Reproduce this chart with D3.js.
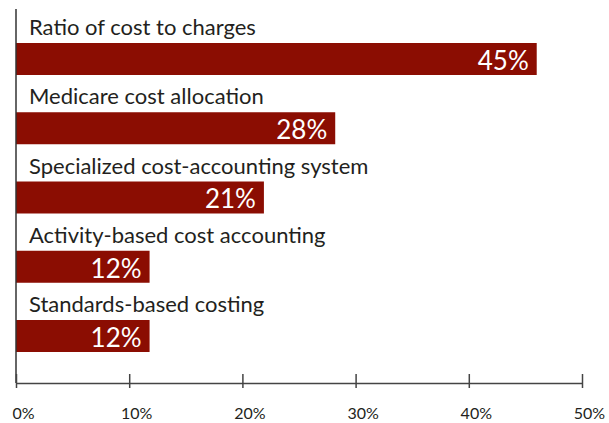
<!DOCTYPE html>
<html>
<head>
<meta charset="utf-8">
<script src="https://cdn.jsdelivr.net/npm/d3@7"></script>
<style>
  body { margin: 0; background: #fff; }
  svg { display: block; font-family: Lato, "Open Sans", sans-serif; }
</style>
</head>
<body>
<svg id="chart" width="609" height="423"></svg>
<script>
const categories = [
  "Ratio of cost to charges",
  "Medicare cost allocation",
  "Specialized cost-accounting system",
  "Activity-based cost accounting",
  "Standards-based costing"
];
// bar lengths as drawn (percent)
const values = [46, 28.2, 21.9, 11.8, 11.8];
// printed labels on the bars
const valueLabels = ["45%", "28%", "21%", "12%", "12%"];
const xTicks = [0, 10, 20, 30, 40, 50];

const svg = d3.select("#chart");
const x0 = 16, x1 = 582, axisY = 383;

const x = d3.scaleLinear().domain([0, 50]).range([x0, x1]);
const y = d3.scaleBand()
  .domain(categories)
  .range([43, 352])
  .paddingInner(0.538)
  .paddingOuter(0)
  .align(0);

const rows = categories.map((c, i) => ({ cat: c, value: values[i], label: valueLabels[i] }));

// bars
svg.selectAll("rect.bar")
  .data(rows)
  .join("rect")
  .attr("class", "bar")
  .attr("x", x(0))
  .attr("y", d => y(d.cat))
  .attr("width", d => x(d.value) - x(0))
  .attr("height", y.bandwidth())
  .attr("fill", "#8b0d02");

// category labels above bars
svg.selectAll("text.cat")
  .data(rows)
  .join("text")
  .attr("class", "cat")
  .attr("x", x(0) + 13)
  .attr("y", d => y(d.cat) - 8)
  .attr("fill", "#231f20")
  .style("font-size", "22px")
  .text(d => d.cat);

// value labels inside bars
svg.selectAll("text.val")
  .data(rows)
  .join("text")
  .attr("class", "val")
  .attr("x", d => x(d.value) - 8)
  .attr("y", d => y(d.cat) + y.bandwidth() - 5)
  .attr("text-anchor", "end")
  .attr("fill", "#fff")
  .style("font-size", "26px")
  .text(d => d.label);

// vertical axis line
svg.append("line")
  .attr("x1", x(0)).attr("x2", x(0))
  .attr("y1", 9).attr("y2", axisY)
  .attr("stroke", "#333")
  .attr("stroke-width", 1.5);

// x axis
const ax = svg.append("g")
  .attr("transform", `translate(0,${axisY})`)
  .call(d3.axisBottom(x).tickValues(xTicks).tickSize(5).tickSizeOuter(0).tickFormat(d => d + "%"));

ax.select(".domain").attr("stroke", "#444").attr("stroke-width", 1.5);
ax.selectAll(".tick line")
  .attr("y1", -9).attr("y2", 5)
  .attr("stroke", "#444").attr("stroke-width", 1.5);
ax.selectAll(".tick text")
  .attr("y", 36)
  .attr("dy", 0)
  .attr("dx", 7)
  .attr("fill", "#231f20")
  .style("font-family", "Lato, sans-serif")
  .style("font-size", "16px");
</script>
</body>
</html>
